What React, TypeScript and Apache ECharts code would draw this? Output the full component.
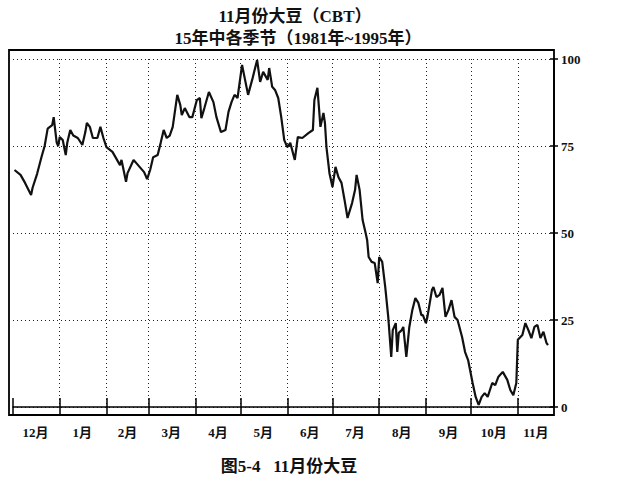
import React, { useEffect, useRef } from "react";
import * as echarts from "echarts";

const monthNames = ["12月", "1月", "2月", "3月", "4月", "5月", "6月", "7月", "8月", "9月", "10月", "11月"];
const monthDays = [31, 31, 28, 31, 30, 31, 30, 31, 31, 30, 31, 25];

// day index (from Dec 1) and seasonal index value
const dayIndex = [
  1, 5, 8, 12, 13, 16, 19, 21, 23, 26, 27, 28, 29, 30, 31, 33, 35, 36, 38, 40,
  43, 46, 48, 49, 51, 53, 56, 58, 60, 62, 66, 68, 71, 72, 75, 76, 80, 82, 84, 87,
  89, 91, 93, 96, 98, 100, 102, 104, 106, 109, 111, 112, 114, 117, 119, 122, 124, 125, 127, 130,
  133, 135, 138, 141, 143, 145, 147, 149, 152, 154, 156, 159, 162, 164, 166, 169, 170, 172, 174, 176,
  178, 180, 182, 184, 187, 189, 192, 196, 199, 200, 202, 203, 204, 206, 207, 208, 210, 212, 214, 216,
  218, 220, 222, 225, 227, 228, 230, 232, 234, 235, 236, 238, 240, 242, 243, 245, 247, 249, 251, 252,
  254, 255, 256, 258, 259, 261, 263, 265, 267, 269, 271, 272, 274, 275, 278, 279, 281, 283, 285, 287,
  289, 291, 293, 295, 298, 300, 302, 305, 307, 309, 311, 313, 315, 318, 320, 322, 325, 328, 330, 332,
  334, 335, 338, 340, 342, 344, 346, 348, 350, 352, 354, 355,
];
const seasonal = [
  68.1, 66.7, 64.4, 60.9, 63, 67, 72, 75, 80, 81, 83.3, 79.6, 76, 75, 77.6, 76.7, 72.4, 75.9, 79.6, 78,
  77.3, 75.3, 79, 81.6, 80.5, 77.3, 77.3, 80.5, 77.3, 74.7, 73.3, 71.8, 69.5, 71, 64.7, 67.2, 71, 70, 69, 67.5,
  65.5, 68.1, 71.8, 72.4, 75.9, 79.6, 77.3, 78, 80.5, 89.7, 86.8, 83.9, 85.9, 83.3, 83.3, 88.2, 88.8, 83, 85.9, 90.5,
  87.6, 83.3, 79, 79.6, 84.8, 87.6, 89.7, 88.8, 98.3, 94, 89.7, 94.5, 99.7, 93.4, 96.3, 94, 97.4, 92, 91, 88.8,
  83.3, 76.7, 74.7, 75.9, 71, 77.6, 77.3, 78.7, 79.6, 88.2, 91.7, 86.2, 80.5, 84.5, 81.6, 74.7, 67.2, 63.2, 69, 66,
  64.4, 59.5, 54.3, 58.6, 62.4, 66.7, 62.4, 53.7, 50, 48, 43.1, 41.7, 41.4, 35.6, 43.1, 41.7, 34.5, 25.9, 14.4, 22.1,
  24.1, 15.8, 21.3, 22.1, 23, 14.4, 23, 27.9, 31.3, 29.9, 26.4, 26.4, 24.1, 25.9, 33.6, 34.5, 31.6, 32.2, 34.2, 25.9,
  27.9, 30.7, 25.9, 25, 20.1, 15.8, 13.5, 6.9, 2.9, 0.6, 2.9, 4, 2.9, 6.9, 6.3, 8.6, 10.1, 7.8, 4.9, 3.4,
  6.9, 19.3, 20.7, 24.1, 22.1, 19.8, 23, 23.6, 19.8, 21.6, 18.4, 17.8,
];

const yTicks = [0, 25, 50, 75, 100];

const FONT = "'Liberation Serif', 'Noto Sans CJK SC', serif";

export default function App() {
  const ref = useRef<HTMLDivElement>(null);
  useEffect(() => {
    if (!ref.current) return;
    const chart = echarts.init(ref.current, null, { renderer: "svg" });

    const categories: string[] = [];
    const monthStarts: number[] = [];
    const monthMids: number[] = [];
    let acc = 0;
    monthDays.forEach((n, m) => {
      monthStarts.push(acc);
      monthMids.push(acc + Math.floor(monthDays[m] === 25 ? 12 : n / 2));
      for (let i = 0; i < n; i++) categories.push(monthNames[m]);
      acc += n;
    });
    const isStart = (i: number) => monthStarts.includes(i);
    const isMid = (i: number) => monthMids.includes(i);

    const data = dayIndex.map((d, i) => [d, seasonal[i]]);

    const baseX = {
      type: "category",
      data: categories,
      boundaryGap: false,
      position: "bottom",
      offset: 8,
    };

    chart.setOption({
      animation: false,
      backgroundColor: "#fff",
      title: [
        {
          text: "11月份大豆（CBT）",
          left: 290,
          top: 3,
          textAlign: "center",
          textStyle: { fontFamily: FONT, fontSize: 17, fontWeight: "bold", color: "#111" },
        },
        {
          text: "15年中各季节（1981年~1995年）",
          left: 293,
          top: 25,
          textAlign: "center",
          textStyle: { fontFamily: FONT, fontSize: 17, fontWeight: "bold", color: "#111" },
        },
        {
          text: "图5-4   11月份大豆",
          left: 284,
          top: 453,
          textAlign: "center",
          textStyle: { fontFamily: FONT, fontSize: 17, fontWeight: "bold", color: "#111" },
        },
      ],
      grid: { left: 13, right: 66, top: 59, bottom: 73 },
      xAxis: [
        {
          ...baseX,
          axisLine: { show: true, lineStyle: { color: "#000", width: 1.5 } },
          axisTick: { show: true, interval: (i: number) => isStart(i), length: 9, lineStyle: { color: "#000", width: 1.5 } },
          axisLabel: {
            show: true,
            interval: (i: number) => isMid(i),
            margin: 11,
            fontFamily: FONT,
            fontSize: 13,
            fontWeight: "bold",
            color: "#111",
          },
          splitLine: {
            show: true,
            interval: (i: number) => isStart(i) && i > 0,
            lineStyle: { color: "#222", width: 1, type: [1, 3] },
          },
        },
        {
          ...baseX,
          axisLine: { show: false },
          axisTick: { show: true, inside: true, interval: (i: number) => isStart(i), length: 9, lineStyle: { color: "#000", width: 1.5 } },
          axisLabel: { show: false },
          splitLine: { show: false },
        },
      ],
      yAxis: [
        {
          type: "value",
          position: "right",
          min: yTicks[0],
          max: yTicks[yTicks.length - 1],
          interval: 25,
          axisLine: { show: true, lineStyle: { color: "#000", width: 1.8 } },
          axisTick: { show: true, length: 4, lineStyle: { color: "#000", width: 1.5 } },
          axisLabel: { margin: 7, fontFamily: FONT, fontSize: 13, fontWeight: "bold", color: "#111" },
          splitLine: { show: true, lineStyle: { color: "#222", width: 1, type: [1, 3] } },
        },
        {
          type: "value",
          position: "right",
          min: yTicks[0],
          max: yTicks[yTicks.length - 1],
          interval: 25,
          axisLine: { show: false },
          axisTick: { show: true, inside: true, length: 4, lineStyle: { color: "#000", width: 1.5 } },
          axisLabel: { show: false },
          splitLine: { show: false },
        },
      ],
      graphic: [
        {
          type: "rect",
          shape: { x: 9, y: 50, width: 545, height: 365 },
          style: { fill: "none", stroke: "#000", lineWidth: 1.8 },
          z: 10,
        },
      ],
      series: [
        {
          type: "line",
          data,
          xAxisIndex: 0,
          yAxisIndex: 0,
          showSymbol: false,
          symbol: "none",
          lineStyle: { color: "#111", width: 2.2 },
        },
      ],
    });
    return () => chart.dispose();
  }, []);
  return <div ref={ref} style={{ position: "fixed", left: 0, top: 0, width: 620, height: 480 }} />;
}
